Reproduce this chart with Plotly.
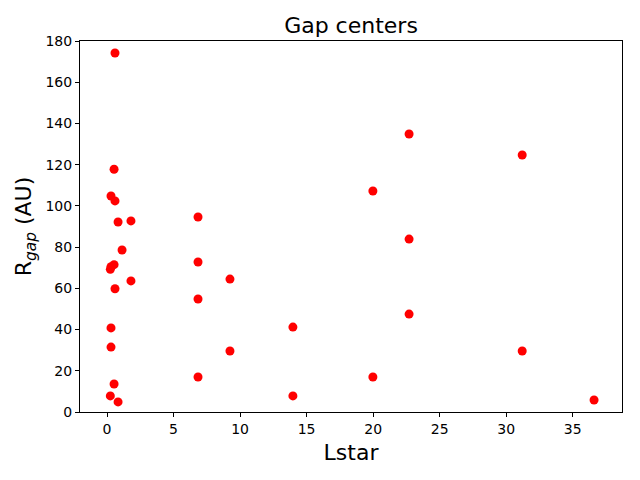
import plotly.graph_objects as go

lstar = [0.6, 0.53, 0.3, 0.6, 0.83, 1.8, 1.13, 0.53, 0.3, 0.25, 1.8, 0.6, 0.3, 0.3, 0.53, 0.25, 0.83,
         6.84, 6.84, 6.84, 6.84, 9.24, 9.24, 13.97, 13.97, 19.98, 19.98,
         22.7, 22.7, 22.7, 31.2, 31.2, 36.6]
rgap = [174.2, 117.8, 104.8, 102.4, 92.2, 92.7, 78.6, 71.5, 70.5, 69.2, 63.6, 59.8, 40.8, 31.5, 13.6, 7.8, 4.9,
        94.6, 72.8, 54.8, 17.0, 64.5, 29.6, 41.2, 7.8, 107.2, 17.0,
        134.9, 83.9, 47.5, 124.7, 29.6, 5.8]

xticks = [0, 5, 10, 15, 20, 25, 30, 35]
yticks = [0, 20, 40, 60, 80, 100, 120, 140, 160, 180]

fig = go.Figure()
fig.add_trace(go.Scatter(
    x=lstar, y=rgap, mode="markers",
    marker=dict(color="#ff0000", size=9, line=dict(width=0)),
    showlegend=False,
))

font = "DejaVu Sans"
fig.update_layout(
    width=640, height=480,
    margin=dict(l=80, r=18, t=41, b=68),
    paper_bgcolor="white", plot_bgcolor="white",
    font=dict(family=font, color="black"),
    title=dict(text="Gap centers", x=0.5, xref="paper", xanchor="center",
               y=1 - 25 / 480, yanchor="middle", font=dict(size=22, family=font, color="black")),
)
fig.update_xaxes(
    range=[-2.03, 38.7], tickvals=xticks, ticktext=[str(t) for t in xticks],
    showgrid=False, zeroline=False, showline=True, linecolor="black", linewidth=1, mirror=True,
    ticks="outside", ticklen=4, tickwidth=1, tickcolor="black",
    tickfont=dict(size=14, family=font, color="black"),
    title=dict(text="Lstar", font=dict(size=22, family=font, color="black"), standoff=8),
)
fig.update_yaxes(
    range=[0, 180], tickvals=yticks, ticktext=[str(t) for t in yticks],
    showgrid=False, zeroline=False, showline=True, linecolor="black", linewidth=1, mirror=True,
    ticks="outside", ticklen=4, tickwidth=1, tickcolor="black",
    tickfont=dict(size=14, family=font, color="black"),
    title=dict(text="R<sub><i>gap</i></sub> (AU)", font=dict(size=22, family=font, color="black"), standoff=7),
)

fig.write_html("out.html")
